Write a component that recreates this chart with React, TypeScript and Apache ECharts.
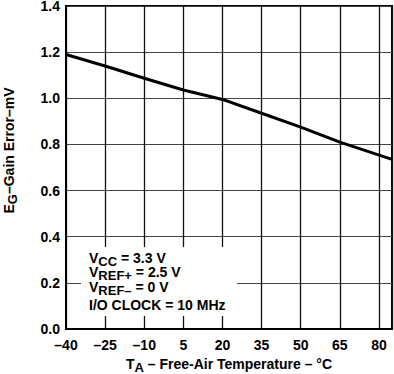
import React, { useEffect, useRef } from "react";
import * as echarts from "echarts";

const temps = [-40, -25, -10, 5, 20, 35, 50, 65, 85];
const gainError = [1.19, 1.14, 1.087, 1.036, 0.995, 0.935, 0.875, 0.81, 0.735];
const xMin = -40;
const xMax = 85;
const xStep = 15;
const conditionLines = [
  ["V", "CC", " = 3.3 V"],
  ["V", "REF+", " = 2.5 V"],
  ["V", "REF\u2013", " = 0 V"],
  ["I/O CLOCK = 10 MHz", "", ""],
];

const FONT = "'Liberation Sans', Arial, Helvetica, sans-serif";

export default function App() {
  const ref = useRef<HTMLDivElement>(null);
  useEffect(() => {
    if (!ref.current) return;
    const chart = echarts.init(ref.current, undefined, { renderer: "svg" });
    const rich = {
      m: { fontFamily: FONT, fontWeight: "bold", fontSize: 14, color: "#000", lineHeight: 14, verticalAlign: "top" },
      s: { fontFamily: FONT, fontWeight: "bold", fontSize: 13, color: "#000", lineHeight: 17, verticalAlign: "bottom" },
    };
    const lineTops = [251, 265, 280, 298];
    const textEls = conditionLines.map((parts, i) => ({
      type: "text",
      left: 89,
      top: lineTops[i],
      z: 20,
      style: {
        text: parts[1] ? `{m|${parts[0]}}{s|${parts[1]}}{m|${parts[2]}}` : `{m|${parts[0]}}`,
        rich,
      },
    }));
    chart.setOption({
      animation: false,
      grid: {
        left: 66,
        right: 2,
        top: 6,
        bottom: 45,
        outerBoundsMode: "none",
        containLabel: false,
        show: true,
        borderColor: "#000",
        borderWidth: 2,
      },
      xAxis: {
        type: "value",
        min: xMin,
        max: xMax,
        interval: xStep,
        name: "{m|T}{s|A}{m| \u2013 Free-Air Temperature \u2013 \u00b0C}",
        nameLocation: "middle",
        nameGap: 27,
        nameTextStyle: { rich },
        axisLine: { show: true, onZero: false, lineStyle: { color: "#000", width: 2 } },
        axisTick: { show: false },
        axisLabel: {
          showMaxLabel: false,
          margin: 9,
          fontFamily: FONT,
          fontWeight: "bold",
          fontSize: 14,
          color: "#000",
          formatter: (v: number) =>
            (v - xMin) % xStep !== 0 ? "" : v < 0 ? "\u2013" + Math.abs(v) : String(v),
        },
        splitLine: { show: true, lineStyle: { color: "#111", width: 1.3 } },
      },
      yAxis: {
        type: "value",
        min: 0,
        max: 1.4,
        interval: 0.2,
        name: "{m|E}{s|G}{m|\u2013Gain Error\u2013mV}",
        nameLocation: "middle",
        nameGap: 47,
        nameTextStyle: { rich, padding: [0, 0, 0, 34] },
        axisLine: { show: true, onZero: false, lineStyle: { color: "#000", width: 2 } },
        axisTick: { show: false },
        axisLabel: {
          margin: 6,
          fontFamily: FONT,
          fontWeight: "bold",
          fontSize: 14,
          color: "#000",
          formatter: (v: number) => v.toFixed(1),
        },
        splitLine: { show: true, lineStyle: { color: "#444", width: 1 } },
      },
      series: [
        {
          type: "line",
          data: temps.map((t, i) => [t, gainError[i]]),
          showSymbol: false,
          lineStyle: { color: "#000", width: 3 },
          z: 5,
        },
      ],
      graphic: [
        {
          type: "rect",
          shape: { x: 81, y: 247, width: 156, height: 69 },
          style: { fill: "#fff" },
          z: 10,
        },
        ...textEls,
      ],
    });
    return () => chart.dispose();
  }, []);
  return (
    <div
      ref={ref}
      style={{ position: "fixed", left: 0, top: 0, width: 394, height: 374, background: "#fff" }}
    />
  );
}
